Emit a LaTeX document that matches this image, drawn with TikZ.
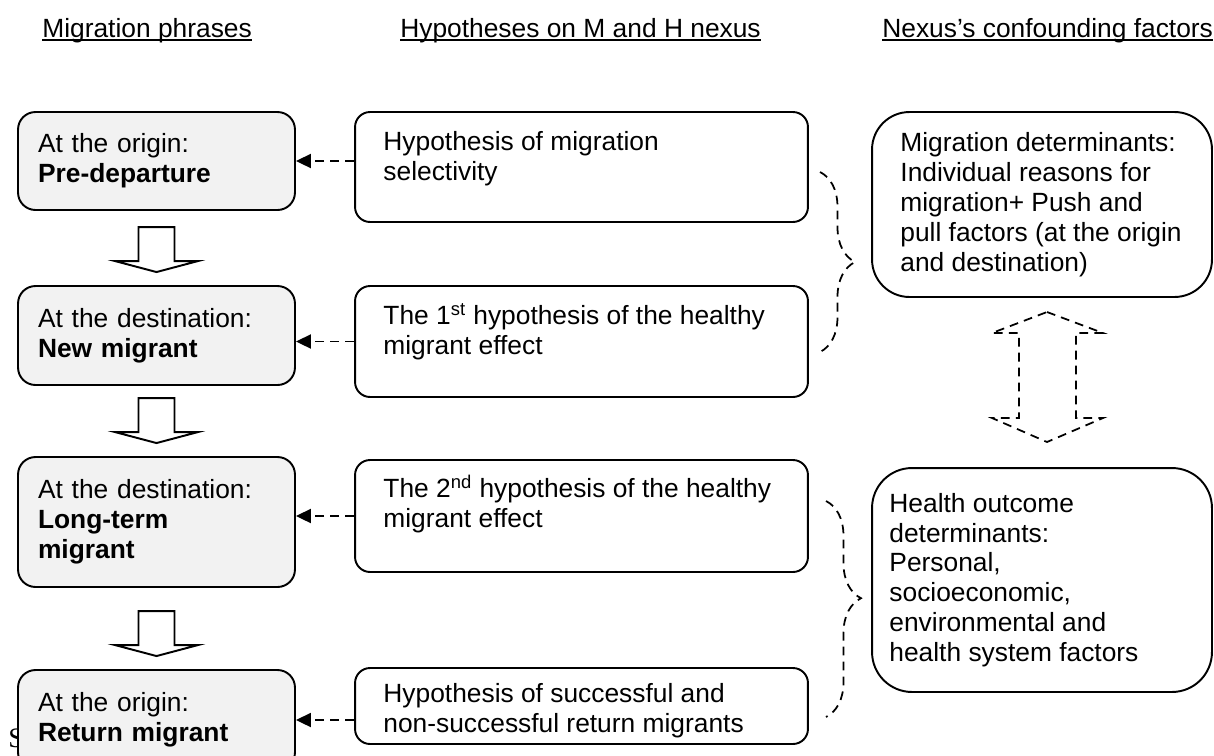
\documentclass[tikz,border=0pt]{standalone}
\usepackage{fontspec}
\setmainfont{Liberation Sans}
\newfontfamily\serifface{Liberation Serif}
\usetikzlibrary{arrows.meta,calc,decorations.pathreplacing}
\definecolor{phasegray}{HTML}{F2F2F2}

\begin{document}
\begin{tikzpicture}[x=0.02cm, y=-0.02cm,
  font=\fontsize{15pt}{17pt}\selectfont,
  phase/.style={draw, line width=1.1pt, fill=phasegray, rounded corners=0.35cm,
    minimum width=5.54cm, text width=4.74cm, inner xsep=0.4cm, align=left},
  hyp/.style={draw, line width=1.1pt, rounded corners=0.3cm, minimum width=9.06cm},
  factor/.style={draw, line width=1.1pt, minimum width=6.8cm},
  boxtext/.style={inner sep=0pt, align=left},
  hdr/.style={inner sep=0pt, anchor=base west},
  link/.style={line width=1.1pt, dash pattern=on 5pt off 3.5pt,
    -{Triangle[length=0.3cm,width=0.28cm]}},
  flow/.style={draw, line width=1.1pt, fill=white, line join=miter},
  dline/.style={line width=1pt, dash pattern=on 5pt off 3.5pt},
  dbrace/.style={dline, decorate, decoration={brace, amplitude=0.7cm}}
]
  \useasboundingbox (0,0) rectangle (1214,755);

  % column titles
  \node[hdr] (hdr1) at (42,37) {Migration phrases};
  \node[hdr] (hdr2) at (400,37) {Hypotheses on M and H nexus};
  \node[hdr] (hdr3) at (882,37) {Nexus’s confounding factors};
  \foreach \h in {hdr1,hdr2,hdr3}
    \draw[line width=1.1pt] ($(\h.base west)+(0,3)$) -- ($(\h.base east)+(0,3)$);

  \node[hdr, font=\serifface\fontsize{16pt}{17pt}\selectfont] (src) at (8,747) {S};

  % migration phases
  \node[phase, minimum height=1.96cm] (pre) at (156.5,161)
    {At the origin:\\ \textbf{Pre-departure}};
  \node[phase, minimum height=1.98cm] (new) at (156.5,335.5)
    {At the destination:\\ \textbf{New migrant}};
  \node[phase, minimum height=2.6cm] (long) at (156.5,522)
    {At the destination:\\ \textbf{Long-term}\\ \textbf{migrant}};
  \node[phase, minimum height=2cm] (ret) at (156.5,720)
    {At the origin:\\ \textbf{Return migrant}};

  \foreach \down in {new,long,ret}
    \draw[flow] ($(\down.north)+(0,-13)$) -- ++(41.5,-11) -- ++(-23.5,0) -- ++(0,-34)
      -- ++(-36,0) -- ++(0,34) -- ++(-23.5,0) -- cycle;

  % hypotheses
  \node[hyp, minimum height=2.2cm] (hyp1) at (581.5,167) {};
  \node[hyp, minimum height=2.22cm] (hyp2) at (581.5,341.5) {};
  \node[hyp, minimum height=2.24cm] (hyp3) at (581.5,516) {};
  \node[hyp, minimum height=1.52cm] (hyp4) at (581.5,706) {};
  \node[boxtext, anchor=north west] (hyp1txt) at ($(hyp1.north west)+(29,18)$)
    {\strut Hypothesis of migration\\ selectivity};
  \node[boxtext, anchor=north west] (hyp2txt) at ($(hyp2.north west)+(29,18)$)
    {\strut The 1\textsuperscript{st} hypothesis of the healthy\\ migrant effect};
  \node[boxtext, anchor=north west] (hyp3txt) at ($(hyp3.north west)+(29,16)$)
    {\strut The 2\textsuperscript{nd} hypothesis of the healthy\\ migrant effect};
  \node[boxtext, anchor=north west] (hyp4txt) at ($(hyp4.north west)+(29,14)$)
    {\strut Hypothesis of successful and\\ non-successful return migrants};

  \draw[link] (hyp1.west |- pre.east) -- (pre.east);
  \draw[link] (hyp2.west) -- (new.east |- hyp2.west);
  \draw[link] (hyp3.west) -- (long.east |- hyp3.west);
  \draw[link] (hyp4.west |- ret.east) -- (ret.east);

  % confounding factors
  \node[factor, rounded corners=0.75cm, minimum height=3.7cm] (mdet) at (1042,204.5) {};
  \node[factor, rounded corners=0.8cm, minimum height=4.48cm] (hdet) at (1042,580) {};
  \node[boxtext, anchor=west] (mdettxt) at ($(mdet.west)+(29,0)$)
    {Migration determinants:\\ Individual reasons for\\ migration+ Push and\\
     pull factors (at the origin\\ and destination)};
  \node[boxtext, anchor=west] (hdettxt) at ($(hdet.west)+(18,0)$)
    {Health outcome\\ determinants:\\ Personal,\\ socioeconomic,\\
     environmental and\\ health system factors};

  \coordinate (b1a) at (820,172);
  \coordinate (b1b) at (820,352);
  \coordinate (b2a) at (826,501);
  \coordinate (b2b) at (826,717);
  \draw[dbrace] (b1a) -- (b1b);
  \draw[dbrace, decoration={aspect=0.45}] (b2a) -- (b2b);

  \coordinate (dtop) at (1047,312);
  \draw[dline] (dtop) -- ++(56,21) -- ++(-27,0) -- ++(0,85) -- ++(27,0)
    -- ++(-56,24) -- ++(-55,-24) -- ++(27,0) -- ++(0,-85) -- ++(-27,0) -- cycle;
\end{tikzpicture}
\end{document}
